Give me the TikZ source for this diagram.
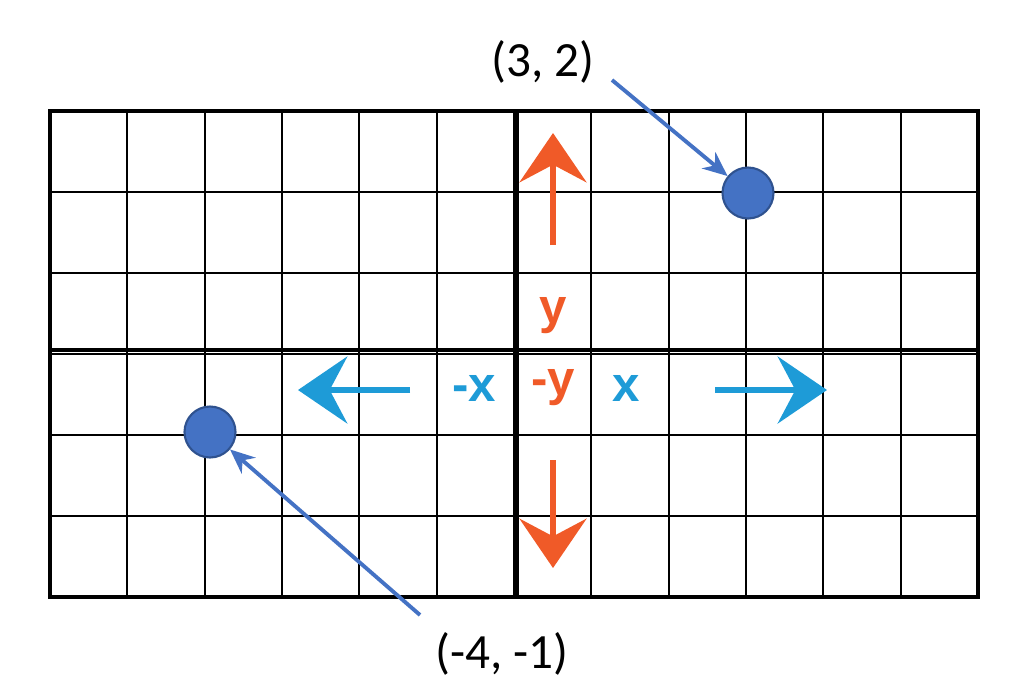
\documentclass[tikz,border=0pt]{standalone}
\usepackage{fontspec}
\setmainfont{Carlito}
\setsansfont{Liberation Sans}
\usetikzlibrary{arrows.meta}
\definecolor{ora}{HTML}{F05A28}
\definecolor{sky}{HTML}{1E9BD7}
\definecolor{ptblue}{HTML}{4472C4}
\definecolor{ptedge}{HTML}{2F528F}
\tikzset{
  gridl/.style={black,line width=0.6pt},
  axisl/.style={black,line width=1.3pt},
  bigarrow/.style={line width=1.8pt,-{Stealth[length=14pt,width=19pt,inset=5pt]}},
  axlab/.style={font=\sffamily\bfseries\fontsize{14}{16}\selectfont},
  ptlab/.style={font=\fontsize{14}{16}\selectfont},
  dot/.style={circle,fill=ptblue,draw=ptedge,line width=0.6pt,minimum size=14.5pt,inner sep=0pt},
  pointer/.style={ptblue,line width=1.1pt,-{Stealth[length=7pt,width=6pt]}}
}
\begin{document}
\begin{tikzpicture}[x=0.01cm,y=-0.01cm]
\useasboundingbox (0,0) rectangle (1024,687);
\foreach \i in {1,...,11} \draw[gridl] ({50+\i*77.33},111) -- ({50+\i*77.33},597);
\foreach \j in {1,...,5} \draw[gridl] (50,{111+\j*81}) -- (978,{111+\j*81});
\draw[axisl] (517,111) -- (517,597);
\draw[axisl] (50,350) -- (978,350);
\draw[black,line width=1pt] (50,111) rectangle (978,597);
\coordinate (uS) at (553,245); \coordinate (uE) at (553,133);
\coordinate (dS) at (553,460); \coordinate (dE) at (553,568);
\coordinate (lS) at (410,390); \coordinate (lE) at (298,390);
\coordinate (rS) at (715,390); \coordinate (rE) at (827,390);
\draw[bigarrow,ora] (uS) -- (uE);
\draw[bigarrow,ora] (dS) -- (dE);
\draw[bigarrow,sky] (lS) -- (lE);
\draw[bigarrow,sky] (rS) -- (rE);
\node[axlab,text=ora] (ylab) at (553,316) {y};
\node[axlab,text=sky] (mxlab) at (474,388) {-x};
\node[axlab,text=ora] (mylab) at (553,388) {-y};
\node[axlab,text=sky] (xlab) at (626,388) {x};
\node[dot] (p1) at (748,193) {};
\node[dot] (p2) at (210,432) {};
\node[ptlab] (l1) at (543,62) {(3, 2)};
\node[ptlab] (l2) at (502,654) {(-4, -1)};
\coordinate (a1) at (612,80);
\coordinate (a2) at (420,615);
\draw[pointer] (a1) -- (p1);
\draw[pointer] (a2) -- (p2);
\end{tikzpicture}
\end{document}
